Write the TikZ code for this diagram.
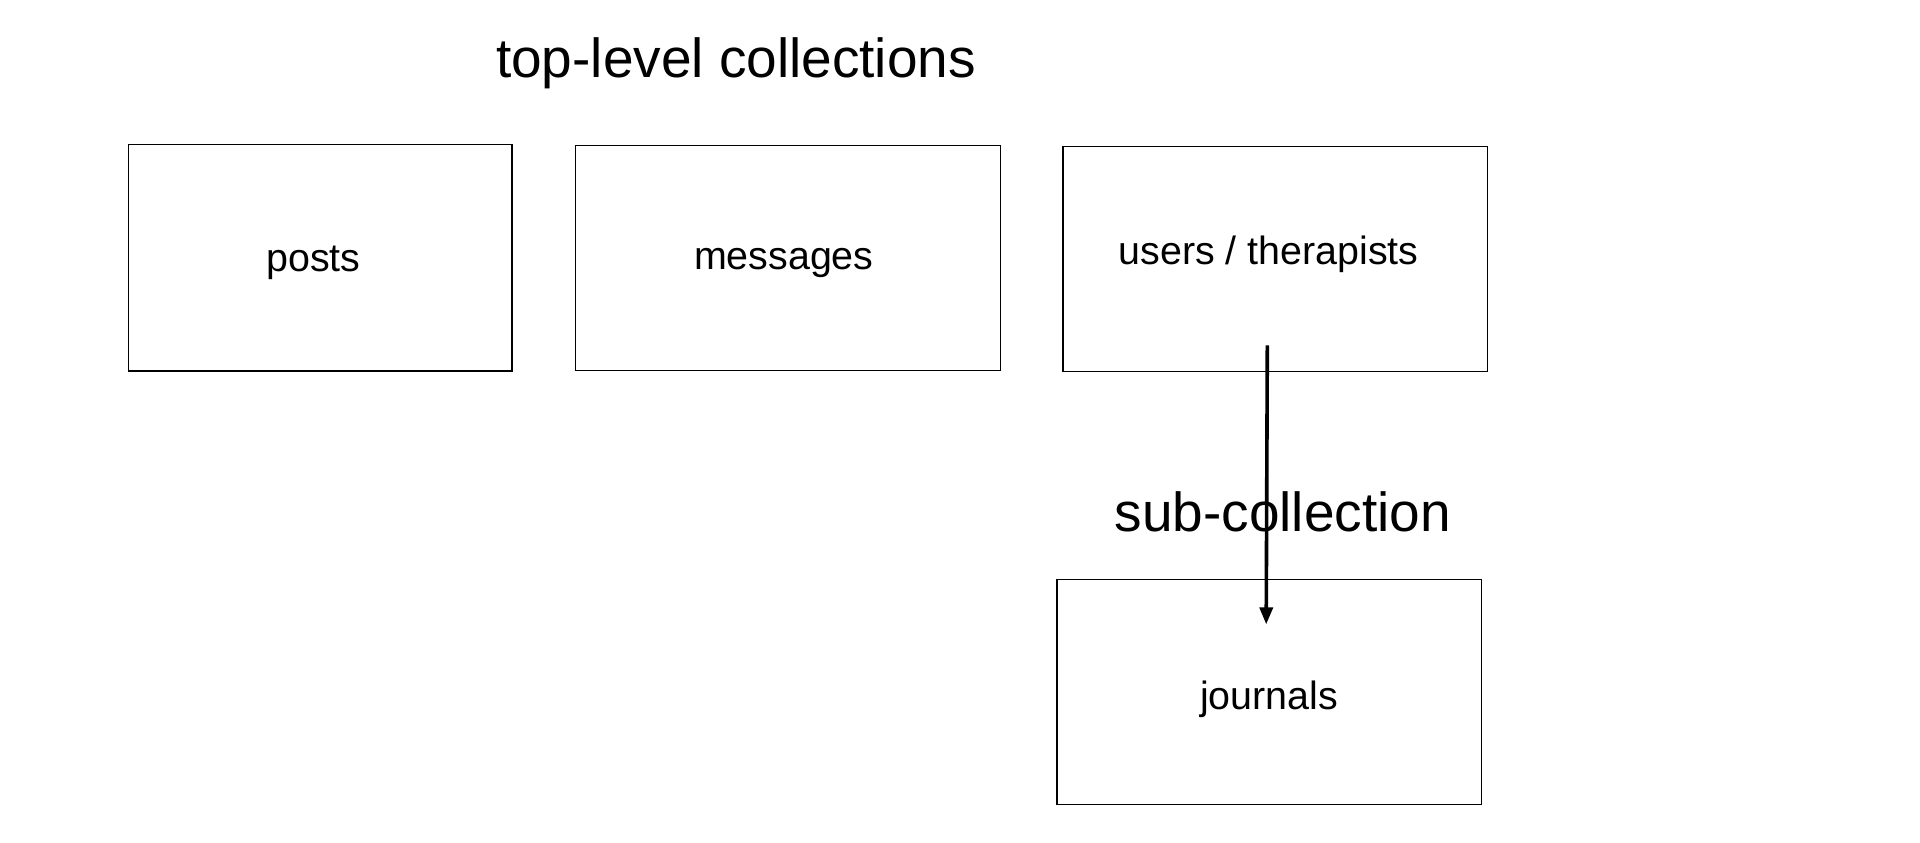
\documentclass[tikz,border=0pt]{standalone}
\usepackage{fontspec}
\setmainfont{Liberation Sans}
\usetikzlibrary{arrows.meta}

\tikzset{
  collbox/.style={draw, line width=0.7pt, inner sep=0pt, outer sep=0pt,
    minimum width=212.4pt, minimum height=112.4pt},
  collname/.style={inner sep=0pt, font=\fontsize{19.7}{23}\selectfont},
  heading/.style={inner sep=0pt, font=\fontsize{27.5}{32}\selectfont},
  link/.style={line width=1.8pt, -{Triangle[length=8.5pt,width=6.5pt]}}
}

\begin{document}
\begin{tikzpicture}[x=0.5pt, y=-0.5pt]
  \useasboundingbox (0,0) rectangle (1920,842);

  % Coordinates
  \coordinate (P) at (320.2, 257.8);
  \coordinate (M) at (788.0, 257.8);
  \coordinate (U) at (1275.3, 259.0);
  \coordinate (J) at (1269.2, 691.8);

  % Headings
  \node[heading] (top) at (736, 63) {top-level collections};
  \node[heading] (sub) at (1282.7, 512) {sub-collection};

  % Collections
  \node[collbox, minimum width=191.6pt, minimum height=113.2pt,
    label={[collname, xshift=-3.4pt, yshift=-2.5pt]center:posts}] (posts) at (P) {};
  \node[collbox,
    label={[collname, xshift=-2.1pt, yshift=-2.5pt]center:messages}] (messages) at (M) {};
  \node[collbox,
    label={[collname, xshift=-3.4pt, yshift=2.2pt]center:users / therapists}] (users) at (U) {};
  \node[collbox,
    label={[collname, xshift=0pt, yshift=-3.5pt]center:journals}] (journals) at (J) {};

  % Drawing
  \coordinate (from) at ([xshift=-4pt, yshift=13pt]users.south);
  \coordinate (to) at ([xshift=-1.5pt, yshift=-22.5pt]journals.north);
  \draw[link] (from) -- (to);
\end{tikzpicture}
\end{document}
